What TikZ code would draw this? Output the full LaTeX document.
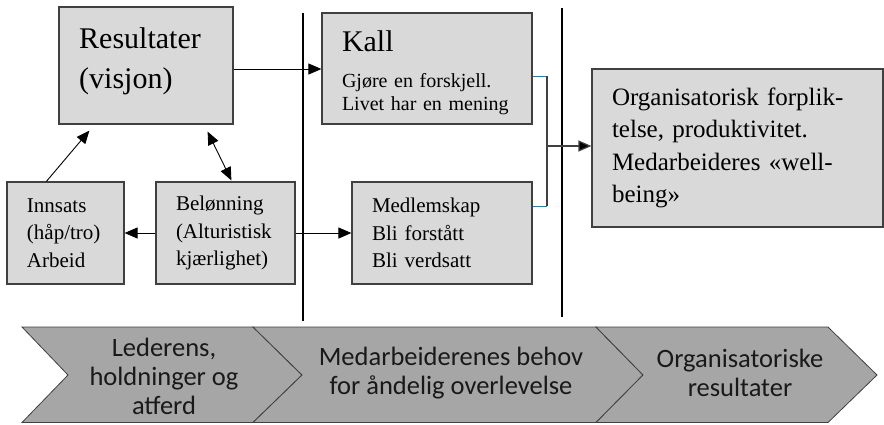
\documentclass[tikz,border=0pt]{standalone}
\usepackage{fontspec}
\setmainfont{Liberation Serif}
\newfontfamily\chevfont{Carlito}
\usetikzlibrary{arrows.meta}
\definecolor{boxfill}{HTML}{D9D9D9}
\definecolor{boxline}{HTML}{404040}
\definecolor{chevfill}{HTML}{A6A6A6}
\definecolor{chevline}{HTML}{404040}
\definecolor{stub}{HTML}{2E7BA6}
\tikzset{
  card/.style={draw=boxline, fill=boxfill, line width=1.2pt, inner xsep=20pt,
    inner ysep=0pt, align=left, anchor=center},
  arr/.style={line width=0.9pt, -{Triangle[length=13pt,width=11pt]}},
  dblarr/.style={line width=0.9pt, {Triangle[length=13pt,width=11pt]}-{Triangle[length=13pt,width=11pt]}},
  divider/.style={line width=2.6pt},
  chev/.style={draw=chevline, fill=chevfill, line width=0.8pt, line join=miter},
  chevtext/.style={font=\chevfont\fontsize{26.5}{29}\selectfont, align=center, text=black!90},
  small/.style={font=\fontsize{21}{27.5}\selectfont},
}
\begin{document}
\begin{tikzpicture}[x=1pt,y=-1pt]
\useasboundingbox (0,0) rectangle (884,424);

% bottom chevron band
\draw[chev] (22,327) -- (253,327) -- (302,375) -- (253,422.5) -- (22,422.5) -- (68,375) -- cycle;
\draw[chev] (253,327) -- (596,327) -- (643,375) -- (596,422.5) -- (253,422.5) -- (302,375) -- cycle;
\draw[chev] (596,327) -- (828,327) -- (877,375) -- (828,422.5) -- (596,422.5) -- (643,375) -- cycle;
\node[chevtext] (c1) at (164,376) {Lederens,\\holdninger og\\atferd};
\node[chevtext] (c2) at (451,373) {Medarbeiderenes behov\\for åndelig overlevelse};
\node[chevtext] (c3) at (740,373) {Organisatoriske\\resultater};

% vertical dividers
\coordinate (d1t) at (303,13);  \coordinate (d1b) at (303,321);
\coordinate (d2t) at (562,8);   \coordinate (d2b) at (562,317);
\draw[divider] (d1t) -- (d1b);
\draw[divider] (d2t) -- (d2b);

% boxes
\node[card, minimum width=174pt, minimum height=117pt] (res) at (146,65.5) {};
\node[anchor=west, align=left, inner sep=0pt, font=\fontsize{30}{40}\selectfont]
  (rest) at (79,61.5) {Resultater\\(visjon)};
\node[card, text width=170pt, minimum height=111pt,
  font=\fontsize{20}{23}\selectfont] (kall) at (427,68.5)
  {{\fontsize{30}{30}\selectfont\rule{0pt}{28.5pt}Kall}\\[13pt]Gjøre en forskjell.\\Livet har en mening};
\node[card, text width=251pt, minimum height=158pt,
  font=\fontsize{25}{32.5}\selectfont] (org) at (737.5,148)
  {Organisatorisk forplik-\\telse, produktivitet.\\Medarbeideres «well-\\being»};
\node[card, small, text width=77pt, minimum height=102pt] (inn) at (65.5,233)
  {Innsats\\(håp/tro)\\Arbeid};
\node[card, small, text width=99pt, minimum height=102pt] (bel) at (225.5,233)
  {Belønning\\(Alturistisk\\kjærlighet)};
\node[card, small, text width=140pt, minimum height=102pt] (med) at (442,233)
  {Medlemskap\\Bli forstått\\Bli verdsatt};

% connectors
\draw[arr] ([yshift=-3.5pt]res.east) -- ([yshift=-3.5pt]res.east -| kall.west);
\draw[arr] ([xshift=40pt]inn.north west) -- ([xshift=31pt,yshift=-6pt]res.south west);
\draw[dblarr] ([xshift=-26pt,yshift=-7pt]res.south east) -- ([xshift=76pt,yshift=1pt]bel.north west);
\draw[arr] (bel.west) -- (inn.west -| inn.east);
\draw[arr] (bel.east) -- (med.west);

% merge of the two needs into the organisational result
\coordinate (ja) at (547,76);
\coordinate (jb) at (547,206);
\coordinate (jm) at (547,146);
\draw[stub, line width=1pt] (kall.east |- ja) -- (ja);
\draw[stub, line width=1pt] (med.east |- jb) -- (jb);
\draw[boxline, line width=1.5pt] (ja) -- (jb);
\draw[boxline, line width=1.2pt, -{Triangle[length=13pt,width=11pt,fill=black]}] (jm) -- (jm -| org.west);
\end{tikzpicture}
\end{document}
